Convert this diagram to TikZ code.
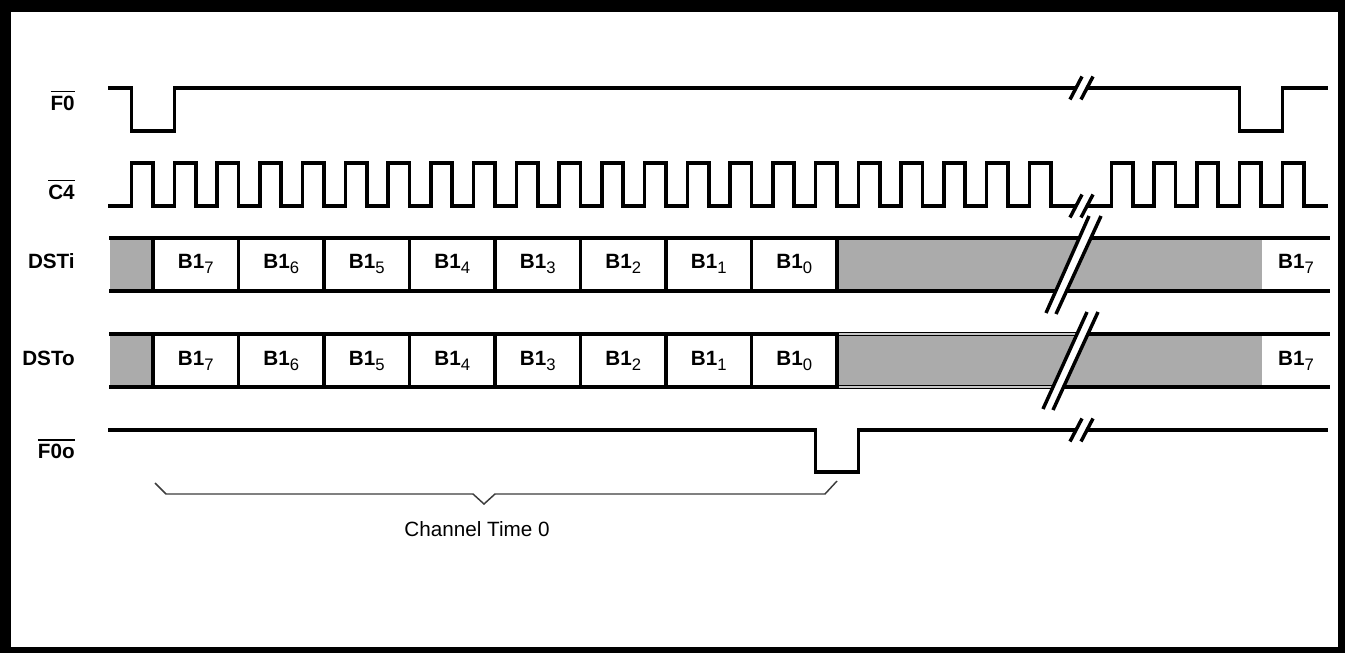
\documentclass[tikz,border=0pt]{standalone}
\usepackage{fontspec}
\setmainfont{Liberation Sans}
\definecolor{cellgray}{RGB}{171,171,171}
\definecolor{bracegray}{RGB}{60,60,60}
\definecolor{edgegray}{RGB}{200,200,200}
\newcommand\ovl[1]{\leavevmode\vbox{\hrule height 1.2pt\kern 2.6pt\hbox{#1}}}
\newcommand\bsub[2]{{\bfseries #1}\raisebox{-3.8pt}{\fontsize{12.5}{12.5}\selectfont #2}}
\begin{document}
\begin{tikzpicture}[x=0.75pt,y=-0.75pt,
  sigline/.style={line width=2.7pt, line join=miter},
  rowline/.style={line width=2.9pt},
  divline/.style={line width=2.6pt},
  slashline/.style={line width=2.6pt},
  lbl/.style={anchor=base east, inner sep=0pt, font=\fontsize{15.5}{18}\selectfont\bfseries},
  celltxt/.style={anchor=base, inner sep=0pt, font=\fontsize{15.5}{18}\selectfont},
  bracel/.style={line width=1.1pt, draw=bracegray, line join=miter}]
\useasboundingbox (0,0) rectangle (1345,653);
% frame
\fill[black] (0,0) rectangle (1345,653);
\fill[white] (11,12) rectangle (1338,647);

% labels
\node[lbl] (lF0) at (75,110) {\ovl{F0}};
\node[lbl] (lC4) at (75,199) {\ovl{C4}};
\node[lbl] (lDSTi) at (75,268) {DSTi};
\node[lbl] (lDSTo) at (75,365) {DSTo};
\node[lbl] (lF0o) at (75,458.5) {\ovl{F0o}};

% F0
\draw[sigline] (108,88) -- (131.6,88) -- (131.6,131) -- (174.4,131) -- (174.4,88) -- (1239.6,88)
  -- (1239.6,131) -- (1282.4,131) -- (1282.4,88) -- (1328,88);

% C4
\draw[sigline] (108,206) foreach \k in {0,...,21} { -- ({131.6+42.75*\k},206) -- ++(0,-43) -- ++(21.375,0) -- ++(0,43) } -- (1111.4,206)
  foreach \k in {0,...,4} { -- ({1111.4+42.75*\k},206) -- ++(0,-43) -- ++(21.375,0) -- ++(0,43) } -- (1328,206);

% F0o
\draw[sigline] (108,430) -- (815.6,430) -- (815.6,472) -- (858.4,472) -- (858.4,430) -- (1328,430);

% DSTi
\fill[cellgray] (110,238) rectangle (153,291);
\fill[cellgray] (837,238) rectangle (1262,291);
\draw[rowline] (109,238) -- (1330,238);
\draw[rowline] (109,291) -- (1330,291);
\foreach \k in {0,...,8} \draw[divline] ({153+85.5*\k},238) -- ({153+85.5*\k},291);

% DSTo
\fill[cellgray] (110,334) rectangle (153,387);
\fill[cellgray] (837,334) rectangle (1262,387);
\draw[rowline] (109,334) -- (1330,334);
\draw[rowline] (109,387) -- (1330,387);
\draw[line width=0.8pt, edgegray] (839,334) -- (1076,334);
\draw[line width=0.8pt, edgegray] (839,387) -- (1053,387);
\foreach \k in {0,...,8} \draw[divline] ({153+85.5*\k},334) -- ({153+85.5*\k},387);

% cell texts
\foreach \i [evaluate=\i as \b using int(7-\i)] in {0,...,7} {
  \node[celltxt] (ti\i) at ({195.75+85.5*\i},268) {\bsub{B1}{\b}};
  \node[celltxt] (to\i) at ({195.75+85.5*\i},365) {\bsub{B1}{\b}};
}
\node[celltxt] (tiE) at (1296,268) {\bsub{B1}{7}};
\node[celltxt] (toE) at (1296,365) {\bsub{B1}{7}};

% breaks: short (F0, C4, F0o)
\foreach \y in {88,206,430} {
  \fill[white] (1070,\y+11.5) -- (1082,\y-11.5) -- (1093,\y-11.5) -- (1081,\y+11.5) -- cycle;
  \draw[slashline] (1070,\y+11.5) -- (1082,\y-11.5);
  \draw[slashline] (1081,\y+11.5) -- (1093,\y-11.5);
}
% breaks: long (DSTi, DSTo)
\fill[white] (1046,313) -- (1089,216) -- (1101,216) -- (1056,314) -- cycle;
\draw[slashline] (1046,313) -- (1089,216);
\draw[slashline] (1056,314) -- (1101,216);
\fill[white] (1043,409) -- (1087,312) -- (1098,312) -- (1053,410) -- cycle;
\draw[slashline] (1043,409) -- (1087,312);
\draw[slashline] (1053,410) -- (1098,312);

% brace
\coordinate (bl) at (155,483);
\coordinate (br) at (837,481);
\draw[bracel] (bl) -- (166,494) -- (473,494) -- (484,504) -- (495,494) -- (825,494) -- (br);
\node[anchor=base, inner sep=0pt, font=\fontsize{15.5}{18}\selectfont] (ct) at (477,536.7) {Channel Time 0};
\end{tikzpicture}
\end{document}
